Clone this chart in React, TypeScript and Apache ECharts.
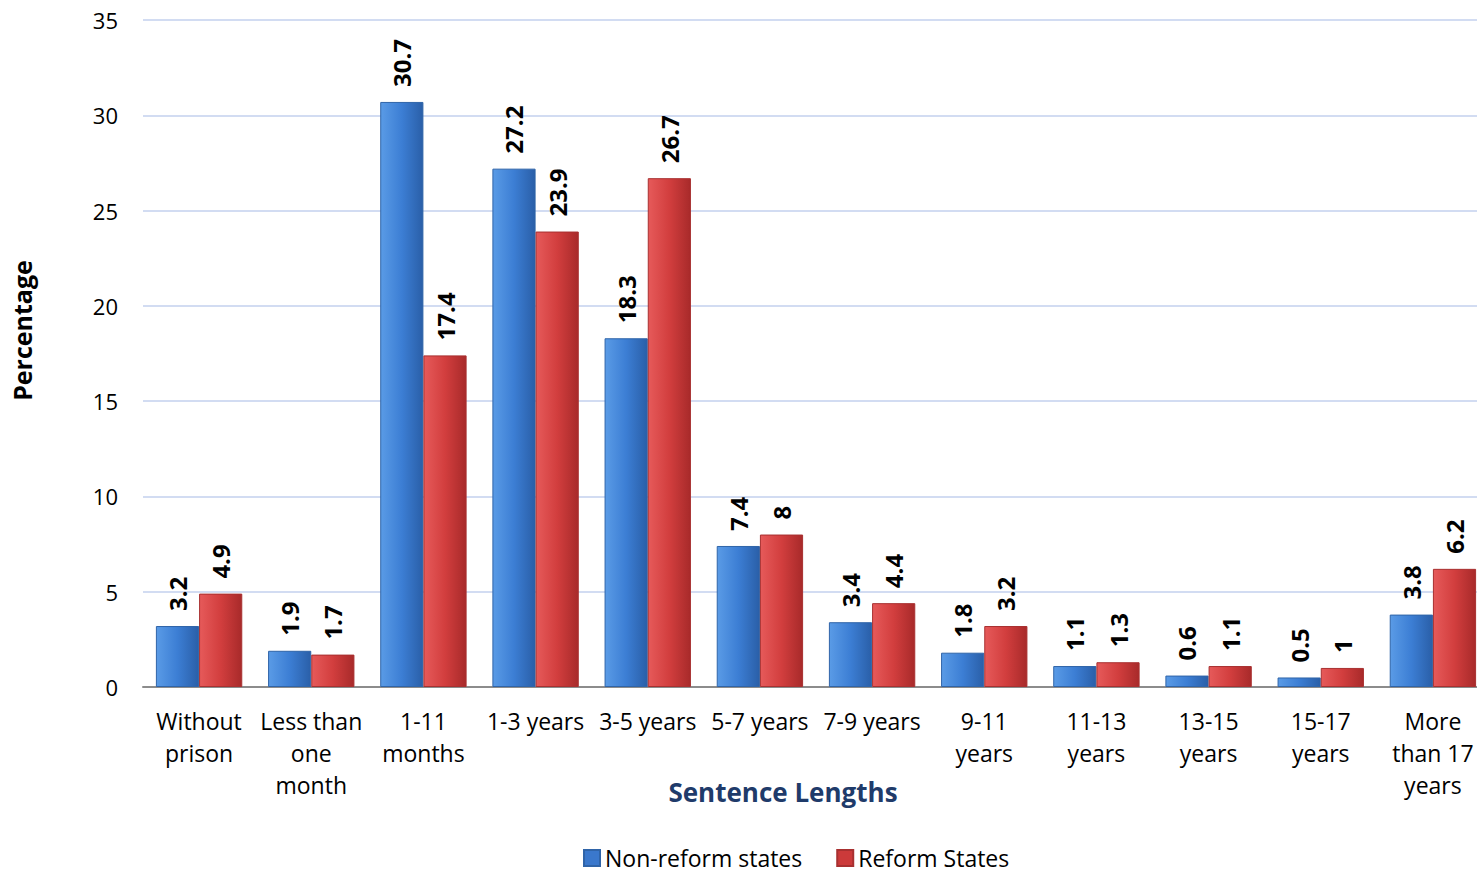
import React, { useEffect, useRef } from "react";
import * as echarts from "echarts";

const categories = [
  "Without\nprison",
  "Less than\none\nmonth",
  "1-11\nmonths",
  "1-3 years",
  "3-5 years",
  "5-7 years",
  "7-9 years",
  "9-11\nyears",
  "11-13\nyears",
  "13-15\nyears",
  "15-17\nyears",
  "More\nthan 17\nyears",
];
const nonReform = [3.2, 1.9, 30.7, 27.2, 18.3, 7.4, 3.4, 1.8, 1.1, 0.6, 0.5, 3.8];
const reform = [4.9, 1.7, 17.4, 23.9, 26.7, 8, 4.4, 3.2, 1.3, 1.1, 1, 6.2];

const font = "'Open Sans', 'Noto Sans', sans-serif";

function grad(c1: string, c2: string, c3: string) {
  return new echarts.graphic.LinearGradient(0, 0, 1, 0, [
    { offset: 0, color: c1 },
    { offset: 0.5, color: c2 },
    { offset: 1, color: c3 },
  ]);
}

export default function App() {
  const ref = useRef<HTMLDivElement>(null);
  useEffect(() => {
    const chart = echarts.init(ref.current!, null, { renderer: "svg" });
    const label = {
      show: true,
      position: "top" as const,
      rotate: 90,
      align: "left" as const,
      verticalAlign: "middle" as const,
      distance: 15,
      fontSize: 24,
      fontWeight: "bold" as const,
      color: "#000",
      fontFamily: font,
    };
    chart.setOption({
      animation: false,
      grid: { left: 143, right: 0, top: 20, bottom: 183 },
      legend: {
        left: 578,
        top: 838,
        itemWidth: 16,
        itemHeight: 16,
        itemGap: 34,
        icon: "rect",
        textStyle: { fontSize: 23, lineHeight: 30, fontFamily: font, color: "#000" },
        data: [
          { name: "Non-reform states", itemStyle: { color: "#3A78CC" } },
          { name: "Reform States", itemStyle: { color: "#CC3A3A" } },
        ],
      },
      xAxis: {
        type: "category",
        data: categories,
        axisLine: { lineStyle: { color: "#8c8c8c", width: 2 } },
        axisTick: { show: false },
        axisLabel: {
          fontSize: 23,
          lineHeight: 32,
          color: "#000",
          fontFamily: font,
          margin: 18,
          interval: 0,
        },
        name: "Sentence Lengths",
        nameLocation: "middle",
        nameGap: 92,
        nameMoveOverlap: false,
        nameTextStyle: {
          fontSize: 26,
          fontWeight: "bold",
          color: "#1F3B6A",
          fontFamily: font,
          padding: [0, 66, 0, 0],
        },
      },
      yAxis: {
        type: "value",
        min: 0,
        max: 35,
        interval: 5,
        axisLine: { show: false },
        axisTick: { show: false },
        splitLine: { lineStyle: { color: "#C3D1EE", width: 1.5 } },
        axisLabel: { fontSize: 22, color: "#000", fontFamily: font, margin: 25 },
        name: "Percentage",
        nameLocation: "middle",
        nameGap: 109,
        nameMoveOverlap: false,
        nameTextStyle: {
          fontSize: 25,
          fontWeight: "bold",
          color: "#000",
          fontFamily: font,
          padding: [0, 0, 0, 46],
        },
      },
      series: [
        {
          name: "Non-reform states",
          type: "bar",
          data: nonReform,
          barGap: "0%",
          barCategoryGap: "23%",
          itemStyle: {
            color: grad("#5A9BE6", "#3C7ED4", "#2A5FA8"),
            borderColor: "#2F64A8",
            borderWidth: 1,
          },
          label,
        },
        {
          name: "Reform States",
          type: "bar",
          data: reform,
          itemStyle: {
            color: grad("#E65A5A", "#D23E3E", "#A82A2A"),
            borderColor: "#A83030",
            borderWidth: 1,
          },
          label,
        },
      ],
    });
    return () => chart.dispose();
  }, []);
  return (
    <div
      style={{
        position: "fixed",
        left: 0,
        top: 0,
        width: 1477,
        height: 870,
        overflow: "hidden",
        background: "#fff",
      }}
    >
      <div ref={ref} style={{ width: 1489, height: 870 }} />
    </div>
  );
}
